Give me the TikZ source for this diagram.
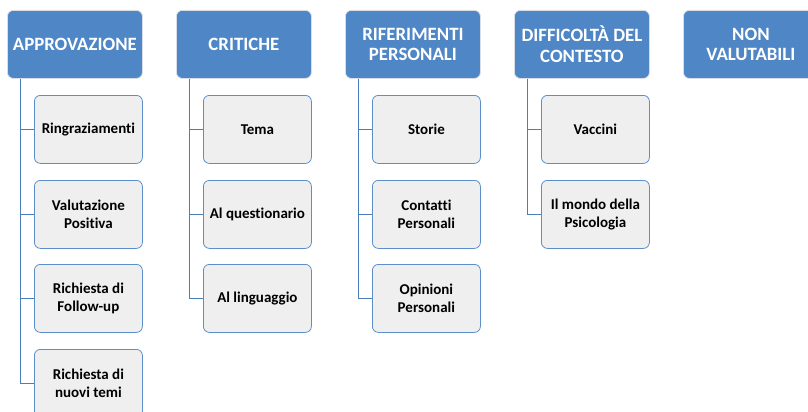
\documentclass[tikz,border=0pt]{standalone}
\usepackage{fontspec}
\setmainfont{Carlito}[Ligatures=NoCommon]
\definecolor{hdrfill}{HTML}{4F86C6}
\definecolor{hdrdraw}{HTML}{D9DEE6}
\definecolor{chfill}{HTML}{EEEFEE}
\definecolor{chdraw}{HTML}{5C8FCA}
\definecolor{linec}{HTML}{4A7EBB}
\tikzset{
  hdr/.style={draw=hdrdraw, line width=0.8pt, fill=hdrfill, rounded corners=6pt, minimum width=135pt, minimum height=68pt, anchor=north west, inner sep=0pt, text=white, align=center, font=\fontsize{18.8}{20.5}\selectfont\bfseries},
  child/.style={draw=chdraw, line width=0.8pt, fill=chfill, rounded corners=6pt, minimum width=108pt, minimum height=68pt, anchor=north west, inner sep=0pt, text=black, align=center, font=\fontsize{15}{18}\selectfont\bfseries},
  conn/.style={draw=linec, line width=1pt}
}
\begin{document}
\begin{tikzpicture}[x=1pt,y=-1pt]
\clip (0,0) rectangle (808,412);
\useasboundingbox (0,0) rectangle (808,412);
% headers
\node[hdr] (h1) at (7,10) {APPROVAZIONE};
\node[hdr] (h2) at (176,10) {CRITICHE};
\node[hdr] (h3) at (345,10) {RIFERIMENTI\\PERSONALI};
\node[hdr] (h4) at (514,10) {DIFFICOLTÀ DEL\\CONTESTO};
\node[hdr] (h5) at (683,10) {NON\\VALUTABILI};
% children column 1
\node[child] (a1) at (34,95) {Ringraziamenti};
\node[child] (a2) at (34,180) {Valutazione\\Positiva};
\node[child] (a3) at (34,264) {Richiesta di\\Follow-up};
\node[child] (a4) at (34,349) {Richiesta di\\nuovi temi};
% column 2
\node[child] (b1) at (203,95) {Tema};
\node[child] (b2) at (203,180) {Al questionario};
\node[child] (b3) at (203,264) {Al linguaggio};
% column 3
\node[child] (c1) at (372,95) {Storie};
\node[child] (c2) at (372,180) {Contatti\\Personali};
\node[child] (c3) at (372,264) {Opinioni\\Personali};
% column 4
\node[child] (d1) at (541,95) {Vaccini};
\node[child] (d2) at (541,180) {Il mondo della\\Psicologia};
% connectors
\coordinate (t1) at ([xshift=13.5pt]h1.south west);
\coordinate (t2) at ([xshift=13.5pt]h2.south west);
\coordinate (t3) at ([xshift=13.5pt]h3.south west);
\coordinate (t4) at ([xshift=13.5pt]h4.south west);
\draw[conn] (t1) |- (a4.west);
\draw[conn] (t1) |- (a1.west);
\draw[conn] (t1) |- (a2.west);
\draw[conn] (t1) |- (a3.west);
\draw[conn] (t2) |- (b3.west);
\draw[conn] (t2) |- (b1.west);
\draw[conn] (t2) |- (b2.west);
\draw[conn] (t3) |- (c3.west);
\draw[conn] (t3) |- (c1.west);
\draw[conn] (t3) |- (c2.west);
\draw[conn] (t4) |- (d2.west);
\draw[conn] (t4) |- (d1.west);
\end{tikzpicture}
\end{document}
